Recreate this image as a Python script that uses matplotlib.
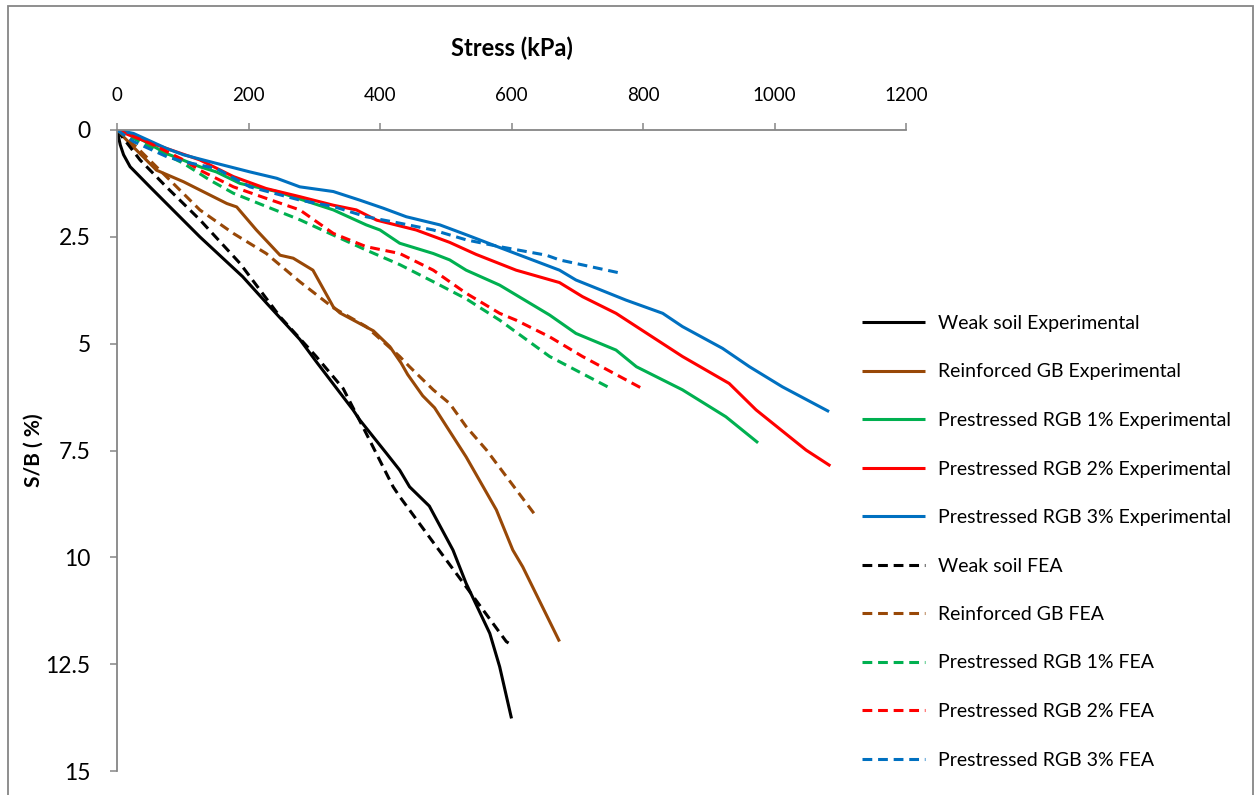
import matplotlib
matplotlib.use("Agg")
import matplotlib.pyplot as plt
from matplotlib.patches import Rectangle

plt.rcParams["font.family"] = ["Lato", "DejaVu Sans"]

# Stress (kPa) vs settlement ratio S/B (%)
weak_exp_x = [0, 5, 10, 20, 50, 126, 191, 228, 278, 303, 359, 369, 410, 430, 445, 475, 511, 531, 567, 582, 600]
weak_exp_y = [0, 0.35, 0.58, 0.86, 1.33, 2.5, 3.43, 4.06, 4.9, 5.42, 6.55, 6.78, 7.57, 7.96, 8.35, 8.8, 9.83, 10.61, 11.78, 12.56, 13.77]

gb_exp_x = [0, 25, 60, 101, 167, 182, 212, 248, 268, 298, 329, 339, 390, 415, 432, 442, 465, 483, 531, 577, 602, 617, 673]
gb_exp_y = [0, 0.4, 0.94, 1.21, 1.72, 1.8, 2.34, 2.93, 3.0, 3.28, 4.14, 4.28, 4.7, 5.07, 5.45, 5.72, 6.22, 6.5, 7.65, 8.89, 9.83, 10.22, 11.97]

rgb1_exp_x = [0, 25, 75, 126, 151, 187, 243, 329, 379, 400, 430, 481, 506, 531, 582, 658, 698, 759, 790, 860, 926, 975]
rgb1_exp_y = [0, 0.12, 0.55, 0.86, 0.98, 1.25, 1.44, 1.87, 2.22, 2.34, 2.65, 2.89, 3.04, 3.28, 3.63, 4.33, 4.76, 5.15, 5.54, 6.08, 6.71, 7.32]

rgb2_exp_x = [0, 25, 75, 126, 177, 227, 278, 329, 364, 395, 455, 506, 546, 607, 673, 708, 759, 790, 860, 931, 972, 1048, 1085]
rgb2_exp_y = [0, 0.16, 0.43, 0.7, 1.09, 1.37, 1.56, 1.76, 1.87, 2.11, 2.34, 2.63, 2.91, 3.28, 3.57, 3.9, 4.29, 4.6, 5.3, 5.93, 6.55, 7.49, 7.86]

rgb3_exp_x = [0, 25, 75, 101, 151, 202, 243, 278, 329, 369, 405, 440, 491, 531, 582, 673, 698, 774, 830, 860, 921, 962, 1012, 1083]
rgb3_exp_y = [0, 0.08, 0.43, 0.58, 0.78, 0.98, 1.13, 1.33, 1.44, 1.64, 1.83, 2.03, 2.22, 2.45, 2.75, 3.28, 3.51, 3.98, 4.29, 4.6, 5.11, 5.54, 6.01, 6.59]

weak_fea_x = [0, 35, 75, 126, 187, 248, 303, 344, 379, 420, 430, 481, 531, 592, 597]
weak_fea_y = [0, 0.7, 1.33, 2.1, 3.12, 4.37, 5.3, 6.05, 7.1, 8.35, 8.58, 9.65, 10.69, 11.97, 12.02]

gb_fea_x = [0, 29, 75, 126, 177, 227, 278, 329, 379, 430, 445, 481, 506, 531, 562, 637]
gb_fea_y = [0, 0.39, 1.09, 1.87, 2.42, 2.89, 3.55, 4.16, 4.6, 5.3, 5.54, 6.08, 6.4, 6.94, 7.49, 9.03]

rgb1_fea_x = [0, 50, 101, 141, 177, 227, 278, 329, 379, 430, 481, 531, 582, 658, 750]
rgb1_fea_y = [0, 0.39, 0.78, 1.17, 1.48, 1.79, 2.1, 2.46, 2.81, 3.15, 3.55, 3.95, 4.45, 5.3, 6.04]

rgb2_fea_x = [0, 50, 101, 126, 177, 227, 278, 329, 379, 430, 481, 506, 531, 582, 607, 658, 708, 800]
rgb2_fea_y = [0, 0.31, 0.7, 0.94, 1.33, 1.6, 1.87, 2.42, 2.73, 2.89, 3.28, 3.55, 3.82, 4.29, 4.45, 4.84, 5.3, 6.06]

rgb3_fea_x = [0, 25, 75, 101, 151, 202, 278, 329, 379, 430, 481, 531, 582, 653, 673, 766]
rgb3_fea_y = [0, 0.27, 0.62, 0.74, 0.9, 1.33, 1.64, 1.79, 2.03, 2.18, 2.34, 2.57, 2.73, 2.93, 3.04, 3.35]

series = [
    ("Weak soil Experimental", weak_exp_x, weak_exp_y, "#000000", "-"),
    ("Reinforced GB Experimental", gb_exp_x, gb_exp_y, "#984807", "-"),
    ("Prestressed RGB 1% Experimental", rgb1_exp_x, rgb1_exp_y, "#00B050", "-"),
    ("Prestressed RGB 2% Experimental", rgb2_exp_x, rgb2_exp_y, "#FF0000", "-"),
    ("Prestressed RGB 3% Experimental", rgb3_exp_x, rgb3_exp_y, "#0070C0", "-"),
    ("Weak soil FEA", weak_fea_x, weak_fea_y, "#000000", "--"),
    ("Reinforced GB FEA", gb_fea_x, gb_fea_y, "#984807", "--"),
    ("Prestressed RGB 1% FEA", rgb1_fea_x, rgb1_fea_y, "#00B050", "--"),
    ("Prestressed RGB 2% FEA", rgb2_fea_x, rgb2_fea_y, "#FF0000", "--"),
    ("Prestressed RGB 3% FEA", rgb3_fea_x, rgb3_fea_y, "#0070C0", "--"),
]

W, H = 1255, 795
fig = plt.figure(figsize=(W / 100, H / 100), dpi=100)
ax = fig.add_axes([117 / W, 1 - 771 / H, 789 / W, 641 / H])

for label, xs, ys, color, ls in series:
    line, = ax.plot(xs, ys, color=color, linestyle=ls, linewidth=2.2, label=label,
                    solid_capstyle="butt", dash_capstyle="butt", solid_joinstyle="round")
    if ls == "--":
        line.set_dashes((3.2, 1.9))

ax.set_xlim(0, 1200)
ax.set_ylim(15, 0)
ax.set_xticks(range(0, 1201, 200))
ax.set_yticks([0, 2.5, 5, 7.5, 10, 12.5, 15])
ax.set_yticklabels(["0", "2.5", "5", "7.5", "10", "12.5", "15"])

grey = "#868686"
for side in ("right", "bottom"):
    ax.spines[side].set_visible(False)
for side in ("left", "top"):
    ax.spines[side].set_color(grey)
    ax.spines[side].set_linewidth(1.3)

ax.xaxis.set_ticks_position("top")
ax.xaxis.set_label_position("top")
ax.tick_params(axis="x", direction="out", length=5, width=1.1, color=grey, pad=14, labelsize=13.5)
ax.tick_params(axis="y", direction="out", length=5, width=1.1, color=grey, pad=14, labelsize=16.5)

ax.set_xlabel("Stress (kPa)", fontsize=17, fontweight="bold", labelpad=22)
ax.set_ylabel("S/B ( %)", fontsize=15, fontweight="bold", labelpad=1)

fig.legend(loc="upper left", bbox_to_anchor=(862 / W, 1 - 315 / H), frameon=False,
           fontsize=14, handlelength=3.25, handletextpad=0.67, labelspacing=1.62,
           borderpad=0, borderaxespad=0)

# chart area border
fig.add_artist(Rectangle((8 / W, -0.05), 1245 / W, 1.05 - 6 / H, transform=fig.transFigure,
                         fill=False, edgecolor=grey, linewidth=1.3))

fig.savefig("out.png", dpi=100)
